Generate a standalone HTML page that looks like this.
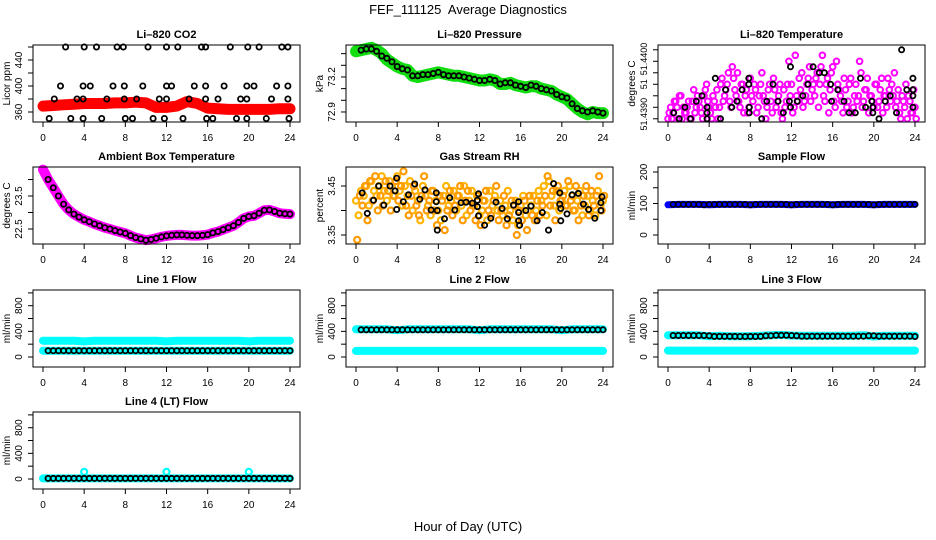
<!DOCTYPE html>
<html><head><meta charset="utf-8"><title>FEF_111125 Average Diagnostics</title>
<style>
html,body{margin:0;padding:0;background:#fff;}
svg{display:block;font-family:"Liberation Sans",Arial,sans-serif;}
</style></head>
<body>
<svg id="chart" width="936" height="540" viewBox="0 0 936 540" xmlns="http://www.w3.org/2000/svg">
<rect x="0" y="0" width="936" height="540" fill="#fff"/>
<text x="468" y="14" text-anchor="middle" font-size="13" xml:space="preserve">FEF_111125  Average Diagnostics</text>
<text x="468" y="531" text-anchor="middle" font-size="13">Hour of Day (UTC)</text>
</svg>
<script>
// ---------- data ----------
const hourTicks = [0,4,8,12,16,20,24];
// CO2
const co2RedHourly = [369,370,371,372,373,373,373,374,374,375,374,367,367,369,376,373,366,365,364,364,364,364,364,365,365];
const co2BlackT = [2.2,4.0,5.2,7.2,7.8,10.2,12.0,13.1,15.4,15.8,18.2,19.9,21.0,23.2,23.8,
 1.7,3.9,4.6,6.8,7.9,9.7,12.0,12.5,14.7,15.8,17.6,19.8,20.5,22.7,23.8,
 1.1,3.3,3.9,6.2,7.9,9.1,11.3,12.0,14.2,15.8,17.0,19.2,19.8,22.2,23.8,
 0.6,2.7,3.9,5.7,8.0,8.7,10.7,11.8,13.6,15.9,16.5,18.8,19.8,21.7,23.9];
const co2BlackV = [460,460,460,460,460,460,460,460,460,460,460,460,460,460,460,
 400,400,400,400,400,400,400,400,400,400,400,400,400,400,400,
 380,380,380,380,380,380,380,380,380,380,380,380,380,380,380,
 350,350,350,350,350,350,350,350,350,350,350,350,350,350,350];
// Pressure
const presGreen = [73.42,73.43,73.44,73.45,73.43,73.40,73.35,73.32,73.29,73.27,73.26,73.21,73.20,73.21,73.22,73.23,73.24,73.23,73.22,73.21,73.21,73.20,73.19,73.18,73.17,73.17,73.18,73.17,73.14,73.14,73.15,73.13,73.12,73.11,73.12,73.12,73.10,73.09,73.08,73.05,73.03,73.01,72.97,72.93,72.90,72.88,72.90,72.89,72.89];
const presBlack = [73.43,73.44,73.44,73.42,73.38,73.36,73.33,73.29,73.27,73.26,73.21,73.21,73.22,73.22,73.23,73.24,73.22,73.21,73.21,73.21,73.20,73.19,73.18,73.17,73.17,73.18,73.17,73.14,73.15,73.15,73.13,73.12,73.11,73.13,73.12,73.10,73.09,73.08,73.05,73.03,73.02,72.97,72.93,72.91,72.90,72.91,72.90,72.89];
// Li-820 temperature
const tempPinkA = [51.43875,51.43900,51.43888,51.43913,51.43875,51.43925,51.43900,51.43888,51.43913,
51.43875,51.43938,51.43900,51.43913,51.43888,51.43925,51.43950,51.43900,51.43875,51.43913,51.43938,51.43900,
51.43963,51.43925,51.43950,51.43913,51.43988,51.43938,51.43975,51.43900,51.43950,51.43925,51.43888,51.43963,
51.43913,51.43938,51.43900,51.43950,51.43925,51.43875,51.43938,51.43913,51.43963,51.43900,51.43925,51.43888,
51.43938,51.43913,51.44000,51.43950,51.43900,51.43925,51.43963,51.43975,51.43913,51.43950,51.43988,51.43938,
51.43925,51.43975,51.43950,51.44013,51.43913,51.43963,51.43938,51.43988,51.43900,51.43950,51.43925,51.43888,
51.43938,51.43913,51.43963,51.43900,51.43950,51.43925,51.43975,51.43913,51.43938,51.43888,51.43925,51.43900,
51.43950,51.43913,51.43963,51.43925,51.43900,51.43938,51.43950,51.43975,51.43913,51.43888,51.43925,51.43900,
51.43875,51.43913,51.43888,51.43900];
const tempPinkB = [51.43888,51.43875,51.43913,51.43900,51.43925,51.43875,51.43888,51.43900,51.43875,
51.43913,51.43888,51.43925,51.43900,51.43875,51.43938,51.43913,51.43888,51.43925,51.43900,51.43875,51.43950,
51.43913,51.43938,51.43975,51.43900,51.43963,51.43925,51.43913,51.43950,51.43888,51.43938,51.43900,51.43925,
51.43950,51.43888,51.43925,51.43975,51.43913,51.43900,51.43950,51.43888,51.43938,51.43913,51.43950,51.43875,
51.43900,51.43950,51.43925,51.43888,51.44013,51.43913,51.43938,51.43900,51.43925,51.43963,51.43913,51.43950,
51.43963,51.43900,51.43988,51.43925,51.43950,51.43888,51.43975,51.43913,51.44000,51.43938,51.43913,51.43963,
51.43900,51.43950,51.43888,51.43925,51.43913,51.44000,51.43900,51.43938,51.43963,51.43925,51.43913,51.43950,
51.43900,51.43938,51.43888,51.43925,51.43963,51.43913,51.43925,51.43900,51.43938,51.43875,51.43913,51.43950,
51.43925,51.43888,51.43938,51.43875];
const tempBlackT = [1.1,0.55,1.65,2.2,2.75,3.3,3.8,3.8,3.8,4.6,5.1,5.6,6.2,6.7,7.2,7.85,7.85,7.9,7.9,9.1,9.6,10.2,10.7,11.2,11.8,11.9,11.9,12.55,13.1,13.6,14.1,14.7,15.2,15.8,15.9,16.5,17.1,17.6,18.2,18.7,19.2,19.8,19.9,19.9,20.5,21.1,21.6,22.2,22.7,23.2,23.8,23.8,23.8,23.8];
const tempBlackV = [51.43875,51.43888,51.43900,51.43875,51.43913,51.43925,51.43900,51.43888,51.43875,51.43963,51.43875,51.43938,51.43900,51.43913,51.43938,51.43950,51.43963,51.43900,51.43888,51.43875,51.43913,51.43950,51.43913,51.43888,51.43913,51.43988,51.43900,51.43913,51.43925,51.43950,51.43988,51.43975,51.43975,51.43950,51.43913,51.43938,51.43913,51.43888,51.43888,51.43963,51.43900,51.43913,51.43900,51.43888,51.43875,51.43913,51.43925,51.43888,51.44025,51.43938,51.43963,51.43938,51.43925,51.43900];
// Ambient box temperature
const ambMagenta = [24.3,24.0,23.75,23.5,23.25,23.08,22.95,22.86,22.78,22.72,22.65,22.6,22.54,22.5,22.45,22.41,22.37,22.3,22.24,22.2,22.16,22.18,22.22,22.26,22.29,22.31,22.32,22.32,22.31,22.3,22.3,22.31,22.33,22.38,22.42,22.48,22.54,22.6,22.7,22.82,22.88,22.9,22.98,23.07,23.08,23.03,22.98,22.96,22.95];
const ambBlack = [24.0,23.75,23.5,23.25,23.08,22.95,22.86,22.78,22.72,22.65,22.6,22.54,22.5,22.45,22.41,22.37,22.3,22.24,22.2,22.16,22.18,22.22,22.26,22.29,22.31,22.32,22.32,22.31,22.3,22.3,22.31,22.33,22.38,22.42,22.48,22.54,22.6,22.7,22.82,22.88,22.9,22.98,23.07,23.08,23.03,22.98,22.96,22.95];
// Gas stream RH
const rhA = [3.42,3.39,3.44,3.43,3.45,3.41,3.46,3.44,3.43,
3.45,3.47,3.44,3.42,3.46,3.45,3.43,3.47,3.44,3.41,3.45,3.43,
3.46,3.40,3.44,3.42,3.38,3.45,3.43,3.41,3.39,3.44,3.42,3.40,
3.38,3.43,3.45,3.41,3.42,3.44,3.40,3.43,3.41,3.45,3.39,3.42,
3.44,3.41,3.43,3.39,3.40,3.42,3.38,3.44,3.41,3.43,3.40,3.42,
3.39,3.41,3.44,3.40,3.38,3.42,3.37,3.41,3.43,3.39,3.40,3.41,
3.43,3.40,3.44,3.42,3.45,3.39,3.46,3.43,3.41,3.44,3.40,3.42,
3.44,3.41,3.45,3.43,3.40,3.42,3.44,3.39,3.41,3.43,3.40,3.42,
3.39,3.44,3.41,3.42];
const rhB = [3.34,3.43,3.41,3.45,3.38,3.46,3.42,3.47,3.40,
3.43,3.41,3.46,3.44,3.40,3.43,3.46,3.42,3.45,3.48,3.41,3.39,
3.43,3.45,3.41,3.39,3.43,3.47,3.40,3.42,3.44,3.40,3.37,3.43,
3.42,3.36,3.40,3.44,3.39,3.41,3.43,3.45,3.38,3.42,3.44,3.40,
3.41,3.38,3.43,3.37,3.42,3.44,3.40,3.39,3.42,3.45,3.38,3.40,
3.43,3.37,3.39,3.42,3.41,3.35,3.40,3.38,3.42,3.36,3.43,3.39,
3.38,3.42,3.39,3.41,3.43,3.47,3.41,3.44,3.38,3.45,3.42,3.43,
3.41,3.46,3.42,3.40,3.45,3.38,3.41,3.43,3.45,3.39,3.44,3.41,
3.43,3.47,3.40,3.43];
const rhBlackT = [0.6,1.1,1.7,2.2,2.7,3.3,3.8,3.95,3.95,4.6,5.1,5.7,6.2,6.7,7.3,7.8,7.8,7.9,7.9,8.6,9.1,9.6,10.2,10.7,11.3,11.8,11.9,11.8,11.9,12.5,13.1,13.6,14.2,14.7,15.3,15.8,15.8,15.8,15.9,16.5,17.0,17.6,18.1,18.7,19.2,19.8,19.8,19.9,19.9,20.5,21.0,21.6,22.1,22.6,23.2,23.8,23.8,23.9];
const rhBlackV = [3.436,3.394,3.421,3.450,3.411,3.450,3.440,3.466,3.402,3.418,3.432,3.454,3.423,3.442,3.401,3.436,3.418,3.400,3.360,3.383,3.426,3.401,3.416,3.417,3.415,3.421,3.434,3.408,3.389,3.370,3.384,3.417,3.404,3.383,3.411,3.396,3.418,3.379,3.370,3.400,3.409,3.379,3.396,3.360,3.455,3.436,3.413,3.404,3.379,3.393,3.432,3.435,3.413,3.402,3.384,3.416,3.400,3.428];
// Sample flow
const sampleBlue = [96,97,97,97,96,97,97,97,96,97,97,97,96,97,97,97,96,97,97,97,96,97,97,97,97];
const sampleBlack = [97,97,97,97,97,97,96,97,97,97,97,97,97,97,97,96,97,97,97,97,97,97,97,96,97,97,97,97,97,97,97,96,97,97,97,97,97,97,97,96,97,97,97,97,97,97,97,97];
// Line flows
const line1CyanHigh = [254,254,254,254,244,254,254,254,254,254,254,254,244,254,254,254,254,254,254,254,244,254,254,254,254];
const line1CyanLow = [98,98,98,98,98,98,98,98,98,98,98,98,98,98,98,98,98,98,98,98,98,98,98,98,98];
const line1Black = [98,98,98,98,98,98,98,98,98,98,98,98,98,98,98,98,98,98,98,98,98,98,98,98,98,98,98,98,98,98,98,98,98,98,98,98,98,98,98,98,98,98,98,98,98,98,98,98];
const line2CyanHigh = [432,432,432,432,418,432,432,432,432,432,432,432,418,432,432,432,432,432,432,432,418,432,432,432,432];
const line2CyanLow = [95,95,95,95,95,95,95,95,95,95,95,95,95,95,95,95,95,95,95,95,95,95,95,95,95];
const line2Black = [425,425,425,425,425,425,425,425,424,424,424,424,424,424,424,424,424,424,424,424,424,424,424,424,424,424,424,424,424,424,424,424,424,424,424,424,424,424,424,424,424,424,424,424,424,424,424,424];
const line3CyanHigh = [340,338,338,338,325,330,325,325,325,330,340,345,335,330,330,330,330,330,330,340,320,330,330,330,330];
const line3CyanLow = [100,100,100,100,100,100,100,100,100,100,100,100,100,100,100,100,100,100,100,100,100,100,100,100,100];
const line3Black = [335,335,335,335,335,335,335,330,322,322,322,322,322,320,320,322,320,322,330,332,338,338,338,335,330,325,325,325,325,325,325,325,325,325,325,325,325,325,330,330,325,325,325,325,325,325,325,320];
const line4CyanBase = [10,10,10,10,10,10,10,10,10,10,10,10,10,10,10,10,10,10,10,10,10,10,10,10,10];
const line4SpikeT = [4,12,20];
const line4SpikeV = [110,110,110];
const line4Black = [10,10,10,10,10,10,10,10,10,10,10,10,10,10,10,10,10,10,10,10,10,10,10,10,10,10,10,10,10,10,10,10,10,10,10,10,10,10,10,10,10,10,10,10,10,10,10,10];

// ---------- drawing ----------
const NS = 'http://www.w3.org/2000/svg';
const svg = document.getElementById('chart');
const COLX = [33, 346, 658], ROWY = [45, 167, 290, 412], PW = 267, PH = 77;
function mk(tag, parent){ const e = document.createElementNS(NS, tag); parent.appendChild(e); return e; }

function makePanel(name, col, row, title, ylab, yTop, yBot, ticks, labels, labelSize){
  const L = COLX[col], T = ROWY[row];
  const g = mk('g', svg);
  
  
  const x = t => L + 10 + t / 24 * 247;
  const y = v => T + (yTop - v) / (yTop - yBot) * PH;
  const plot = mk('g', g);
  
  
  const box = mk('rect', g);
  box.setAttribute('x', L); box.setAttribute('y', T); box.setAttribute('width', PW); box.setAttribute('height', PH);
  box.setAttribute('fill', 'none'); box.setAttribute('stroke', '#000'); box.setAttribute('stroke-width', '1');
  
  
  const tt = mk('text', g);
  tt.setAttribute('x', L + PW / 2); tt.setAttribute('y', T - 7); tt.setAttribute('text-anchor', 'middle');
  tt.setAttribute('font-size', '11'); tt.setAttribute('font-weight', 'bold');
  tt.textContent = title;
  
  
  hourTicks.forEach(h => {
    const ln = mk('line', g);
    ln.setAttribute('x1', x(h)); ln.setAttribute('x2', x(h)); ln.setAttribute('y1', T + PH); ln.setAttribute('y2', T + PH + 5);
    ln.setAttribute('stroke', '#000');
    
    
    const tx = mk('text', g);
    tx.setAttribute('x', x(h)); tx.setAttribute('y', T + PH + 19); tx.setAttribute('text-anchor', 'middle'); tx.setAttribute('font-size', '10');
    tx.textContent = h;
    
    
  });
  ticks.forEach(v => {
    const ln = mk('line', g);
    ln.setAttribute('x1', L - 5); ln.setAttribute('x2', L); ln.setAttribute('y1', y(v)); ln.setAttribute('y2', y(v));
    ln.setAttribute('stroke', '#000');
    
    
  });
  labels.forEach(lb => {
    const tx = mk('text', g);
    const px = L - 11, py = y(lb[0]);
    tx.setAttribute('x', px); tx.setAttribute('y', py); tx.setAttribute('text-anchor', 'middle'); tx.setAttribute('font-size', labelSize || '10');
    tx.setAttribute('transform', 'rotate(-90 ' + px + ' ' + py + ')');
    tx.textContent = lb[1];
    
    
  });
  const yl = mk('text', g);
  const lx = L - 23, ly = T + PH / 2;
  yl.setAttribute('x', lx); yl.setAttribute('y', ly); yl.setAttribute('text-anchor', 'middle'); yl.setAttribute('font-size', '10');
  yl.setAttribute('transform', 'rotate(-90 ' + lx + ' ' + ly + ')');
  yl.textContent = ylab;
  
  
  return {x, y, plot};
}

function band(p, name, t0, dt, vals, color, width){
  const pl = mk('polyline', p.plot);
  pl.setAttribute('points', vals.map((v, i) => p.x(t0 + i * dt).toFixed(1) + ',' + p.y(v).toFixed(1)).join(' '));
  pl.setAttribute('fill', 'none'); pl.setAttribute('stroke', color); pl.setAttribute('stroke-width', width);
  pl.setAttribute('stroke-linecap', 'round'); pl.setAttribute('stroke-linejoin', 'round');
  
  
}
function pts(p, name, ts, vals, stroke, r, sw){
  const g = mk('g', p.plot);
  
  
  vals.forEach((v, i) => {
    const c = mk('circle', g);
    c.setAttribute('cx', p.x(ts[i]).toFixed(1)); c.setAttribute('cy', p.y(v).toFixed(1)); c.setAttribute('r', r);
    c.setAttribute('fill', 'none'); c.setAttribute('stroke', stroke); c.setAttribute('stroke-width', sw);
    
    
  });
}
function grid(t0, dt, n){ const a = []; for (let i = 0; i < n; i++) a.push(t0 + i * dt); return a; }

// CO2
let p = makePanel('co2', 0, 0, 'Li\u2013820 CO2', 'Licor ppm', 463.1, 344.6, [360,380,400,420,440,460], [[360,'360'],[400,'400'],[440,'440']]);
band(p, 'co2-red-series', 0, 1, co2RedHourly, '#ff0000', 11);
pts(p, 'co2-black-series', co2BlackT, co2BlackV, '#000', 2.6, 1.8);
// Pressure
p = makePanel('pressure', 1, 0, 'Li\u2013820 Pressure', 'kPa', 73.474, 72.814, [72.9,73.0,73.1,73.2,73.3,73.4], [[72.9,'72.9'],[73.2,'73.2']]);
band(p, 'pressure-green-series', 0, 0.5, presGreen, '#11dd11', 12);
pts(p, 'pressure-black-series', grid(0.5, 0.5, presBlack.length), presBlack, '#000', 2.6, 1.8);
// Temperature
p = makePanel('li820-temperature', 2, 0, 'Li\u2013820 Temperature', 'degrees C', 51.440354, 51.43868, [51.43875,51.439,51.43925,51.4395,51.43975,51.44,51.44025], [[51.43885,'51.4390'],[51.4395,'51'],[51.44005,'51.4400']], '9');
pts(p, 'temperature-pink-a', grid(0, 0.25, tempPinkA.length), tempPinkA, '#ff00ff', 2.8, 2);
pts(p, 'temperature-pink-b', grid(0.12, 0.25, tempPinkB.length), tempPinkB, '#ff00ff', 2.8, 2);
pts(p, 'temperature-black-series', tempBlackT, tempBlackV, '#000', 2.6, 1.8);
// Ambient
p = makePanel('ambient-temperature', 0, 1, 'Ambient Box Temperature', 'degrees C', 24.379, 22.045, [22.5,23,23.5,24], [[22.5,'22.5'],[23.5,'23.5']]);
band(p, 'ambient-magenta-series', 0, 0.5, ambMagenta, '#ff00ff', 10);
pts(p, 'ambient-black-series', grid(0.5, 0.5, ambBlack.length), ambBlack, '#000', 2.6, 1.8);
// RH
p = makePanel('gas-stream-rh', 1, 1, 'Gas Stream RH', 'percent', 3.4888, 3.3316, [3.35,3.40,3.45], [[3.35,'3.35'],[3.45,'3.45']]);
pts(p, 'rh-yellow-a', grid(0, 0.25, rhA.length), rhA, '#ffb400', 3, 2.2);
pts(p, 'rh-yellow-b', grid(0.12, 0.25, rhB.length), rhB, '#ff9a00', 3, 2.2);
pts(p, 'rh-black-series', rhBlackT, rhBlackV, '#000', 2.6, 1.8);
// Sample flow
p = makePanel('sample-flow', 2, 1, 'Sample Flow', 'ml/min', 215.9, -28.6, [0,50,100,150,200], [[0,'0'],[100,'100'],[200,'200']]);
band(p, 'sample-blue-series', 0, 1, sampleBlue, '#0000ff', 7);
pts(p, 'sample-black-series', grid(0.5, 0.5, sampleBlack.length), sampleBlack, '#000', 2.6, 1.6);
// Flow panels
const flowTicks = [0,200,400,600,800,1000], flowLabels = [[0,'0'],[400,'400'],[800,'800']];
p = makePanel('line1-flow', 0, 2, 'Line 1 Flow', 'ml/min', 1045, -156, flowTicks, flowLabels);
band(p, 'line1-cyan-high', 0, 1, line1CyanHigh, '#00ffff', 8);
band(p, 'line1-cyan-low', 0, 1, line1CyanLow, '#00ffff', 8);
pts(p, 'line1-black-series', grid(0.5, 0.5, line1Black.length), line1Black, '#000', 2.6, 1.8);
p = makePanel('line2-flow', 1, 2, 'Line 2 Flow', 'ml/min', 1045, -156, flowTicks, flowLabels);
band(p, 'line2-cyan-high', 0, 1, line2CyanHigh, '#00ffff', 8);
band(p, 'line2-cyan-low', 0, 1, line2CyanLow, '#00ffff', 8);
pts(p, 'line2-black-series', grid(0.5, 0.5, line2Black.length), line2Black, '#000', 2.6, 1.8);
p = makePanel('line3-flow', 2, 2, 'Line 3 Flow', 'ml/min', 1045, -156, flowTicks, flowLabels);
band(p, 'line3-cyan-high', 0, 1, line3CyanHigh, '#00ffff', 8);
band(p, 'line3-cyan-low', 0, 1, line3CyanLow, '#00ffff', 8);
pts(p, 'line3-black-series', grid(0.5, 0.5, line3Black.length), line3Black, '#000', 2.6, 1.8);
p = makePanel('line4-flow', 0, 3, 'Line 4 (LT) Flow', 'ml/min', 1045, -156, flowTicks, flowLabels);
band(p, 'line4-cyan-base', 0, 1, line4CyanBase, '#00ffff', 8);
pts(p, 'line4-cyan-spikes', line4SpikeT, line4SpikeV, '#00ffff', 3, 2.2);
pts(p, 'line4-black-series', grid(0.5, 0.5, line4Black.length), line4Black, '#000', 2.6, 1.8);
</script>
</body></html>
